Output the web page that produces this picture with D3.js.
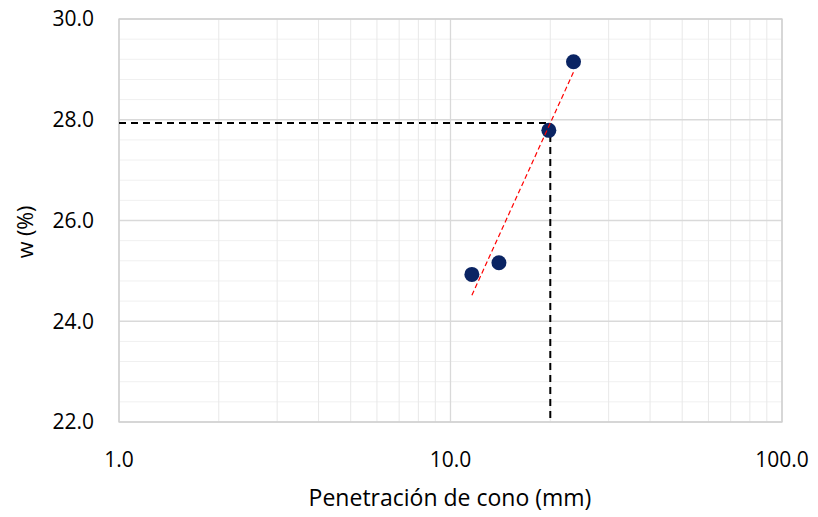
<!DOCTYPE html>
<html><head><meta charset="utf-8">
<script src="https://cdn.jsdelivr.net/npm/d3@7"></script>
<style>body{margin:0;background:#fff;}svg{display:block;font-family:"Open Sans",Calibri,sans-serif;}</style>
</head><body><svg id="c" width="818" height="517"></svg>
<script>
const penetration = [11.6, 14.0, 19.8, 23.5];
const moisture = [24.93, 25.16, 27.79, 29.15];
const xTicks = [1, 10, 100];
const yTicks = [22, 24, 26, 28, 30];
const targetPen = 20;

const svg = d3.select("#c");
const m = {l:119, r:782, t:19, b:422};
const x = d3.scaleLog().domain([1,100]).range([m.l, m.r]);
const y = d3.scaleLinear().domain([22,30]).range([m.b, m.t]);

// minor grid
const minorY = d3.range(22, 30.001, 0.4).filter(v => Math.abs(v/2 - Math.round(v/2)) > 1e-6);
svg.append("g").selectAll("line").data(minorY).join("line")
  .attr("x1", m.l).attr("x2", m.r).attr("y1", d=>y(d)).attr("y2", d=>y(d))
  .attr("stroke", "#f0f0f0").attr("stroke-width", 1);
const minorX = [];
[1,10].forEach(dec => { for (let k=2;k<=9;k++) minorX.push(dec*k); });
svg.append("g").selectAll("line").data(minorX).join("line")
  .attr("x1", d=>x(d)).attr("x2", d=>x(d)).attr("y1", m.t).attr("y2", m.b)
  .attr("stroke", "#e8e8e8").attr("stroke-width", 1);
// major grid
svg.append("g").selectAll("line").data(yTicks).join("line")
  .attr("x1", m.l).attr("x2", m.r).attr("y1", d=>y(d)).attr("y2", d=>y(d))
  .attr("stroke", "#d9d9d9").attr("stroke-width", 1.3);
svg.append("g").selectAll("line").data(xTicks).join("line")
  .attr("x1", d=>x(d)).attr("x2", d=>x(d)).attr("y1", m.t).attr("y2", m.b)
  .attr("stroke", "#d9d9d9").attr("stroke-width", 1.3);
svg.append("rect").attr("x", m.l).attr("y", m.t).attr("width", m.r-m.l).attr("height", m.b-m.t)
  .attr("fill","none").attr("stroke","#d0d0d0").attr("stroke-width",1.3);

// regression w vs log10(pen)
const lx = penetration.map(v=>Math.log10(v));
const mx = d3.mean(lx), my = d3.mean(moisture);
let sxy=0, sxx=0;
lx.forEach((v,i)=>{ sxy += (v-mx)*(moisture[i]-my); sxx += (v-mx)*(v-mx); });
const slope = sxy/sxx, icpt = my - slope*mx;
const fit = p => icpt + slope*Math.log10(p);
const xMin = d3.min(penetration), xMax = d3.max(penetration);
const trendPts = d3.range(0, 21).map(i => xMin * Math.pow(xMax/xMin, i/20));

// guide lines
const wLL = fit(targetPen);
svg.append("line").attr("x1", m.l).attr("x2", x(targetPen)).attr("y1", y(wLL)).attr("y2", y(wLL))
  .attr("stroke","#000").attr("stroke-width",2).attr("stroke-dasharray","7,5");
svg.append("line").attr("x1", x(targetPen)).attr("x2", x(targetPen)).attr("y1", y(wLL)).attr("y2", m.b)
  .attr("stroke","#000").attr("stroke-width",2).attr("stroke-dasharray","7,5");

// points
svg.append("g").selectAll("circle").data(penetration).join("circle")
  .attr("cx", d=>x(d)).attr("cy", (d,i)=>y(moisture[i])).attr("r", 7.5).attr("fill", "#0a2463");

// trend line
svg.append("path").datum(trendPts)
  .attr("d", d3.line().x(d=>x(d)).y(d=>y(fit(d))))
  .attr("fill","none").attr("stroke","#ff0000").attr("stroke-width",1.2).attr("stroke-dasharray","5,3");

// tick labels
svg.append("g").selectAll("text").data(yTicks).join("text")
  .attr("x", 94).attr("y", d=>y(d)).attr("dy","0.35em").attr("text-anchor","end")
  .attr("font-size", 21).attr("fill","#000").text(d=>d3.format(".1f")(d));
svg.append("g").selectAll("text").data(xTicks).join("text")
  .attr("x", d=>x(d)).attr("y", 467).attr("text-anchor","middle")
  .attr("font-size", 21).attr("fill","#000").text(d=>d3.format(".1f")(d));

svg.append("text").attr("x", 450).attr("y", 506).attr("text-anchor","middle")
  .attr("font-size", 23).attr("fill","#000").text("Penetración de cono (mm)");
svg.append("text").attr("transform","translate(33,232) rotate(-90)").attr("text-anchor","middle")
  .attr("font-size", 21.5).attr("fill","#000").text("w (%)");
</script></body></html>
